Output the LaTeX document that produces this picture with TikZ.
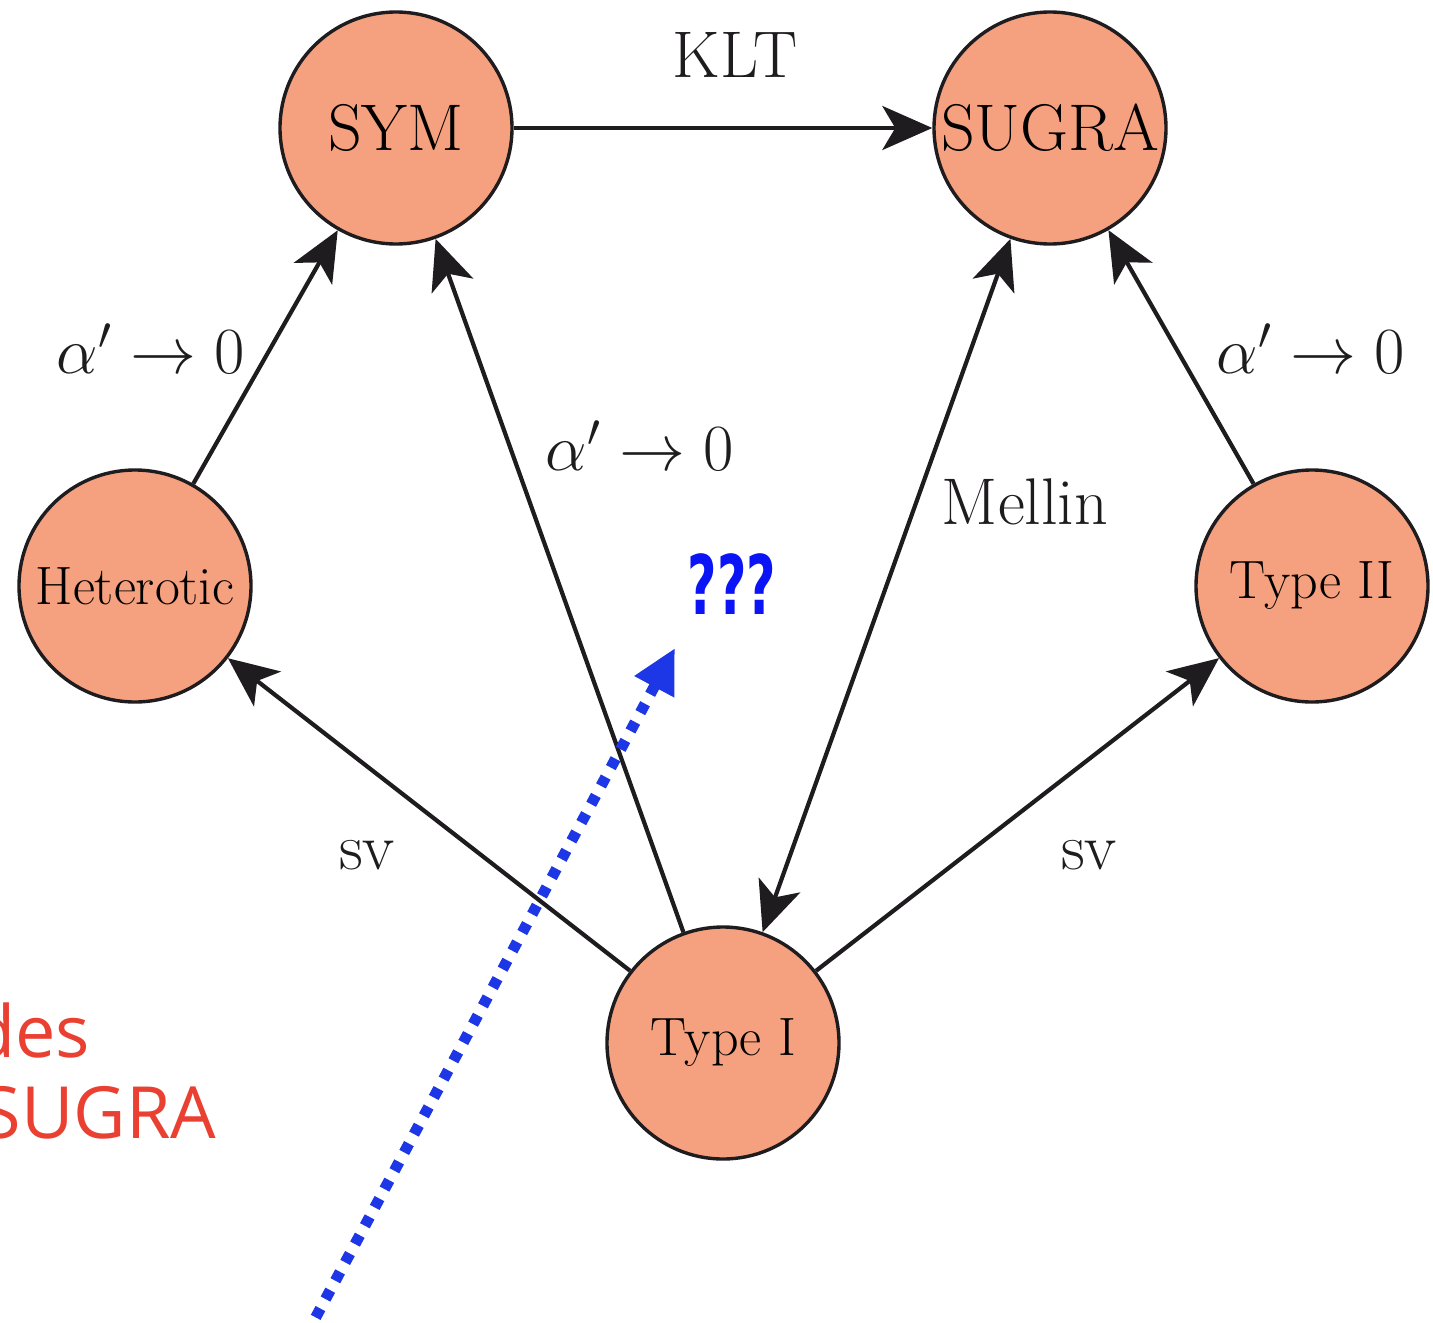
\documentclass[tikz,border=0pt]{standalone}
\usepackage{fix-cm}
\usepackage{fontspec}
\usetikzlibrary{arrows.meta}
\newfontfamily\notefont{Open Sans}
\newfontfamily\askfont{DejaVu Sans}
\definecolor{theoryfill}{RGB}{245,160,126}
\definecolor{inkgrey}{RGB}{30,28,30}
\definecolor{notered}{RGB}{234,64,50}
\definecolor{askblue}{RGB}{10,20,245}
\definecolor{hintblue}{RGB}{30,55,230}
\tikzset{every picture/.style={line width=0.75pt}}

\begin{document}
\begin{tikzpicture}[x=0.5pt,y=0.5pt,yscale=-1,xscale=1,
  >={Stealth[length=25pt,width=22pt,inset=6.5pt]},
  theory/.style={circle,draw=inkgrey,fill=theoryfill,line width=1.7pt,minimum size=116pt,inner sep=0pt},
  link/.style={draw=inkgrey,line width=2.1pt},
  lbl/.style={inner sep=0pt,text=inkgrey,font=\fontsize{33}{40}\selectfont}]
\useasboundingbox (0,0) rectangle (1433,1322);
\clip (0,0) rectangle (1433,1322);

% Theories
\node [theory,font=\fontsize{33}{40}\selectfont] (sym) at (396,128) {SYM};
\node [theory,font=\fontsize{33}{40}\selectfont] (sugra) at (1050,128) {SUGRA};
\node [theory,font=\fontsize{27}{32}\selectfont] (het) at (135,586) {Heterotic};
\node [theory,font=\fontsize{27}{32}\selectfont] (typeii) at (1312,586) {Type II};
\node [theory,font=\fontsize{27}{32}\selectfont] (typei) at (723,1043) {Type I};

% Maps
\draw [link,->] (sym) -- (sugra);
\draw [link,->] (het) -- (sym);
\draw [link,->] (typei) -- (sym);
\draw [link,<->] (sugra) -- (typei);
\draw [link,->] (typeii) -- (sugra);
\draw [link,->] (typei) -- (het);
\draw [link,->] (typei) -- (typeii);

% Labels
\node [lbl] (klt) at (735,55) {KLT};
\node [lbl] (limleft) at (151,349) {$\alpha' \to 0$};
\node [lbl] (limmid) at (640,446) {$\alpha' \to 0$};
\node [lbl] (limright) at (1311,349) {$\alpha' \to 0$};
\node [lbl] (mellin) at (1025,502) {Mellin};
\node [lbl] (svleft) at (367,855) {sv};
\node [lbl] (svright) at (1089,855) {sv};

% Open question
\node [inner sep=0pt,text=askblue,xscale=0.62,font=\askfont\bfseries\fontsize{41}{48}\selectfont] (ask) at (732,584) {???};
\coordinate (hinttail) at (296,1354);
\coordinate (hinttip) at (675,648);
\draw [hintblue,line width=5.5pt,dash pattern=on 5pt off 5.4pt,-{Triangle[length=22pt,width=21pt]}] (hinttail) -- (hinttip);

% Side note
\node [anchor=base east,inner sep=0pt,text=notered,font=\notefont\fontsize{36}{42}\selectfont] (notea) at (91,1057) {des};
\node [anchor=base east,inner sep=0pt,text=notered,font=\notefont\fontsize{36}{42}\selectfont] (noteb) at (217,1138) {SUGRA};

\end{tikzpicture}
\end{document}
